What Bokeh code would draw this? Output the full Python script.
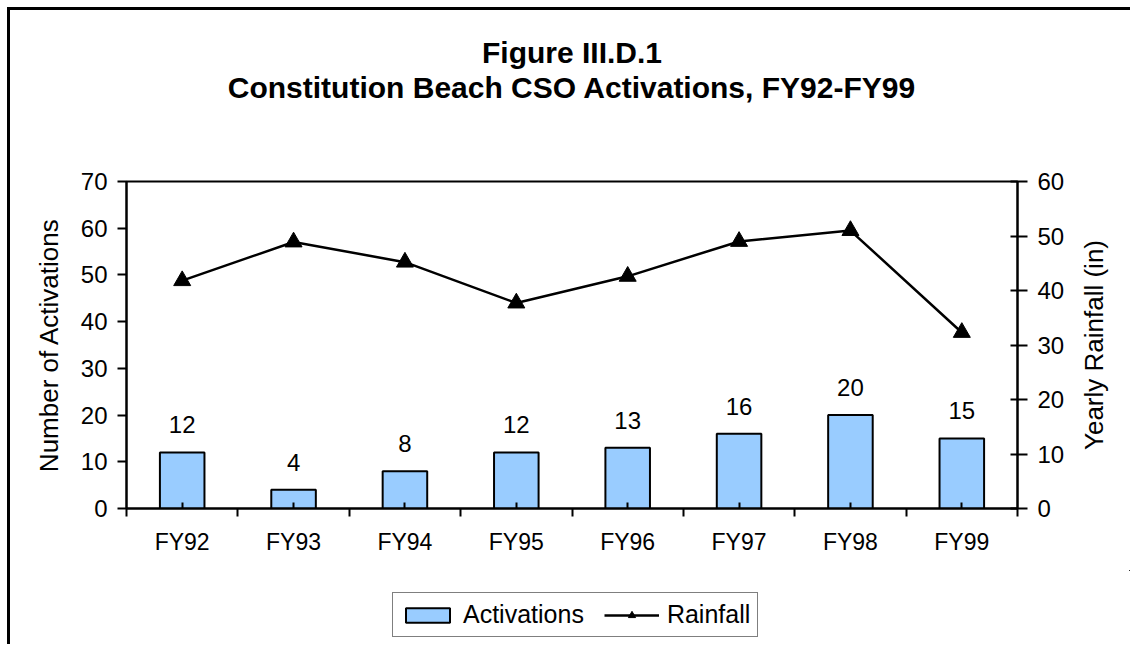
import math
from bokeh.plotting import figure
from bokeh.layouts import column, row
from bokeh.models import (Range1d, LinearAxis, FixedTicker, Title, Legend, LegendItem, Label)
from bokeh.core.properties import value
from bokeh.embed import file_html
from bokeh.resources import INLINE

categories = ["FY92", "FY93", "FY94", "FY95", "FY96", "FY97", "FY98", "FY99"]
activations = [12, 4, 8, 12, 13, 16, 20, 15]
rainfall = [41.8, 48.9, 45.2, 37.7, 42.6, 49.0, 51.0, 32.3]
left_ticks = [0, 10, 20, 30, 40, 50, 60, 70]
right_ticks = [0, 10, 20, 30, 40, 50, 60]
title_lines = ["Figure III.D.1", "Constitution Beach CSO Activations, FY92-FY99"]
legend_labels = ["Activations", "Rainfall"]
left_label = "Number of Activations"
right_label = "Yearly Rainfall (in)"

FONT = "Liberation Sans"
n = len(categories)
xs = [i + 0.5 for i in range(n)]

BAR_STYLE = dict(fill_color="#99CCFF", line_color="black", line_width=2)
LINE_STYLE = dict(line_color="black", line_width=2.5)
MARK_STYLE = dict(marker="triangle", size=17, fill_color="black", line_color="black")

p = figure(width=1065, height=560, output_backend="svg", toolbar_location=None,
           x_range=Range1d(0, n), y_range=Range1d(0, 70),
           min_border_left=116, min_border_right=58, min_border_top=171, min_border_bottom=62)
p.grid.visible = False
p.outline_line_color = "black"
p.outline_line_width = 2
p.background_fill_color = "white"
p.border_fill_color = "white"

# x axis
xa = p.xaxis[0]
xa.ticker = FixedTicker(ticks=xs, minor_ticks=list(range(n + 1)))
xa.major_label_overrides = {x: c for x, c in zip(xs, categories)}
xa.major_tick_in = 6
xa.major_tick_out = 0
xa.minor_tick_in = 0
xa.minor_tick_out = 8
xa.minor_tick_line_color = "black"
xa.minor_tick_line_width = 2
xa.major_tick_line_width = 2
xa.axis_line_width = 2
xa.axis_line_color = "black"
xa.major_label_standoff = 12
xa.major_label_text_font = FONT
xa.major_label_text_font_size = "23px"
xa.major_label_text_color = "black"

# left axis
ya = p.yaxis[0]
ya.ticker = FixedTicker(ticks=left_ticks)
ya.minor_tick_line_color = None
ya.major_tick_in = 0
ya.major_tick_out = 9
ya.major_tick_line_width = 2
ya.axis_line_width = 2
ya.major_label_standoff = 10
ya.major_label_text_font = FONT
ya.major_label_text_font_size = "24px"
ya.major_label_text_color = "black"
ya.axis_label = left_label
ya.axis_label_text_font = FONT
ya.axis_label_text_font_size = "26px"
ya.axis_label_text_font_style = "normal"
ya.axis_label_text_color = "black"
ya.axis_label_standoff = 14

# right axis
p.extra_y_ranges = {"rain": Range1d(0, 60)}
ra = LinearAxis(y_range_name="rain", ticker=FixedTicker(ticks=right_ticks))
ra.minor_tick_line_color = None
ra.major_tick_in = 7
ra.major_tick_out = 10
ra.major_tick_line_width = 2
ra.axis_line_width = 2
ra.major_label_standoff = 10
ra.major_label_text_font = FONT
ra.major_label_text_font_size = "24px"
ra.major_label_text_color = "black"
p.add_layout(ra, "right")

p.vbar(x=xs, top=activations, width=0.4, bottom=0, **BAR_STYLE)
p.text(x=xs, y=activations, text=[str(v) for v in activations],
       text_align="center", text_baseline="bottom", y_offset=-19,
       text_font=value(FONT), text_font_size="24px", text_color="black")
p.line(x=xs, y=rainfall, y_range_name="rain", **LINE_STYLE)
p.scatter(x=xs, y=rainfall, y_range_name="rain", **MARK_STYLE)

# title: spacer closest to frame, then second line, then first line
p.add_layout(Title(text=" ", text_font_size="1px", standoff=75), "above")
for t in reversed(title_lines):
    p.add_layout(Title(text=t, align="center", text_font=FONT, text_font_size="30px",
                       text_font_style="bold", text_color="black", standoff=0), "above")

# right-hand axis title strip (reads bottom-to-top, centred on the plot area)
rf = figure(width=55, height=560, output_backend="svg", toolbar_location=None,
            x_axis_location=None, y_axis_location=None,
            x_range=Range1d(0, 1), y_range=p.y_range,
            min_border_left=0, min_border_right=0, min_border_top=171, min_border_bottom=62)
rf.grid.visible = False
rf.outline_line_color = None
rf.background_fill_color = "white"
rf.border_fill_color = "white"
rf.add_layout(Label(x=18, x_units="screen", y=(p.y_range.start + p.y_range.end) / 2,
                    text=right_label, angle=math.pi / 2,
                    text_align="center", text_baseline="middle",
                    text_font=FONT, text_font_size="26px", text_color="black"))

# legend strip below the chart (same series, drawn outside its visible range)
lf = figure(width=1120, height=74, output_backend="svg", toolbar_location=None,
            x_axis_location=None, y_axis_location=None,
            x_range=Range1d(-101, -100), y_range=Range1d(-101, -100),
            min_border_left=116, min_border_right=0, min_border_top=0, min_border_bottom=0)
lf.grid.visible = False
lf.outline_line_color = None
lf.background_fill_color = "white"
lf.border_fill_color = "white"
lb = lf.vbar(x=xs, top=activations, width=0.4, bottom=0, **BAR_STYLE)
ll = lf.line(x=xs, y=rainfall, **LINE_STYLE)
lm = lf.scatter(x=xs, y=rainfall, **MARK_STYLE)

legend = Legend(items=[LegendItem(label=legend_labels[0], renderers=[lb]),
                       LegendItem(label=legend_labels[1], renderers=[ll, lm])],
                orientation="horizontal", location=(266, 7),
                border_line_color="black", border_line_width=1,
                label_text_font=FONT, label_text_font_size="25px", label_text_color="black",
                glyph_width=55, glyph_height=18, spacing=20, padding=7,
                label_standoff=8, margin=0, background_fill_alpha=1.0)
lf.add_layout(legend, "center")

layout = column(row(p, rf), lf, margin=(7, 0, 0, 7),
                styles={"border-left": "3px solid black", "border-top": "3px solid black"})

open("out.html", "w").write(file_html(layout, INLINE))
